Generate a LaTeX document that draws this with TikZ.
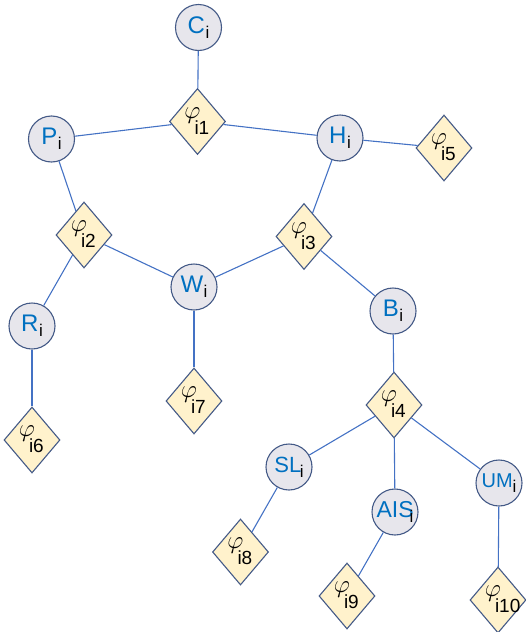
\RequirePackage{fix-cm}
\documentclass[tikz,border=0pt]{standalone}
\usepackage{fontspec}
\setmainfont{Liberation Sans}
\usetikzlibrary{shapes.geometric}
\definecolor{edgeblue}{RGB}{68,114,196}
\definecolor{circfill}{RGB}{231,230,236}
\definecolor{circdraw}{RGB}{68,90,135}
\definecolor{diafill}{RGB}{255,242,204}
\definecolor{txtblue}{RGB}{0,112,192}
\newcommand{\clab}[4]{{\fontsize{#3}{#3}\selectfont\textcolor{txtblue}{#1}}\kern#2\raisebox{-5pt}{\fontsize{#4}{#4}\selectfont i}}
\tikzset{
  circnode/.style={circle, draw=circdraw, fill=circfill, line width=1.1pt, minimum size=46pt, inner sep=0pt},
  phinode/.style={diamond, draw=circdraw, fill=diafill, line width=1.1pt, minimum width=56pt, minimum height=66pt, inner sep=0pt,
    label={[inner sep=0pt, xshift=-5pt, yshift=6pt, font=\fontsize{25}{25}\selectfont]center:$\varphi$},
    label={[inner sep=0pt, xshift=-3pt, yshift=-6pt, font=\fontsize{19}{19}\selectfont]center:\makebox[0pt][l]{i#1}}},
  conn/.style={draw=edgeblue, line width=1.1pt}
}
\begin{document}
\begin{tikzpicture}[x=1pt,y=-1pt]
\useasboundingbox (0,0) rectangle (525,632);
\node[circnode] (C) at (198.5,27.5) {\clab{C}{0.5pt}{24}{17}};
\node[circnode] (P) at (51.5,139) {\clab{P}{0.5pt}{24}{17}};
\node[circnode] (H) at (340,138) {\clab{H}{0.5pt}{24}{17}};
\node[circnode] (W) at (194,287) {\clab{W}{0.5pt}{24}{17}};
\node[circnode] (B) at (393,311) {\clab{B}{0.5pt}{24}{17}};
\node[circnode] (R) at (32,326) {\clab{R}{0.5pt}{24}{17}};
\node[circnode] (SL) at (289,467) {\clab{SL}{-1.5pt}{22}{17}};
\node[circnode] (UM) at (499,483) {\clab{UM}{0pt}{20}{17}};
\node[circnode] (AIS) at (395,512) {\clab{AIS}{-4pt}{23}{17}};
\node[phinode=1] (f1) at (197.5,121.5) {};
\node[phinode=2] (f2) at (84,235) {};
\node[phinode=3] (f3) at (304,236.5) {};
\node[phinode=4] (f4) at (394,405) {};
\node[phinode=5] (f5) at (444,148) {};
\node[phinode=6] (f6) at (32,440) {};
\node[phinode=7] (f7) at (194,401) {};
\node[phinode=8] (f8) at (240.5,552) {};
\node[phinode=9] (f9) at (347,596) {};
\node[phinode=10] (f10) at (498,600) {};
\draw[conn] (C) -- (f1);
\draw[conn] (f1) -- (P);
\draw[conn] (f1) -- (H);
\draw[conn] (H) -- (f5);
\draw[conn] (P) -- (f2);
\draw[conn] (f2) -- (R);
\draw[conn] (f2) -- (W);
\draw[conn] (W) -- (f3);
\draw[conn] (H) -- (f3);
\draw[conn] (f3) -- (B);
\draw[conn] (W) -- (f7);
\draw[conn] (R) -- (f6);
\draw[conn] (B) -- (f4);
\draw[conn] (f4) -- (SL);
\draw[conn] (f4) -- (AIS);
\draw[conn] (f4) -- (UM);
\draw[conn] (SL) -- (f8);
\draw[conn] (AIS) -- (f9);
\draw[conn] (UM) -- (f10);
\end{tikzpicture}
\end{document}
